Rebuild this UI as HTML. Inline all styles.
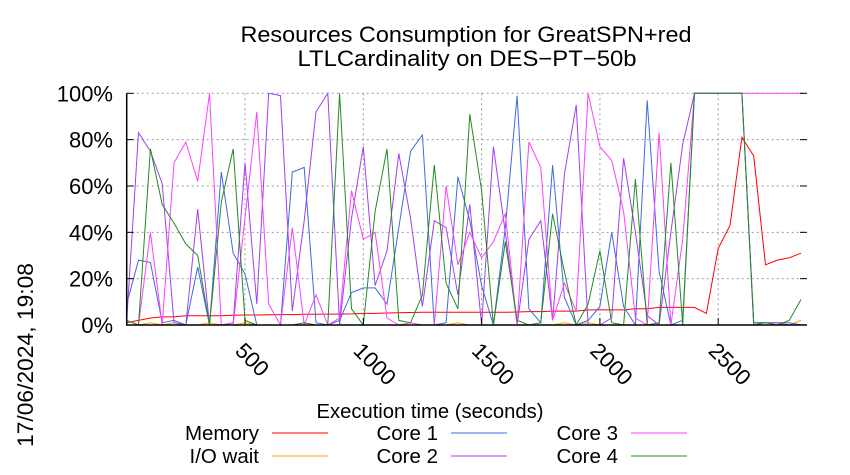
<!DOCTYPE html>
<html><head><meta charset="utf-8"><style>
body{margin:0;background:#fff;}
svg{display:block;font-family:"Liberation Sans",sans-serif;}
</style></head><body>
<svg id="chart" width="850" height="475" viewBox="0 0 850 475">
<text x="466" y="42" font-size="22" text-anchor="middle" textLength="451" lengthAdjust="spacingAndGlyphs">Resources Consumption for GreatSPN+red</text>
<text x="467" y="66" font-size="22" text-anchor="middle" textLength="339" lengthAdjust="spacingAndGlyphs">LTLCardinality on DES−PT−50b</text>
<text transform="translate(33,355) rotate(-90)" font-size="22" text-anchor="middle" textLength="184" lengthAdjust="spacingAndGlyphs">17/06/2024, 19:08</text>
<text x="430" y="418" font-size="20.5" text-anchor="middle" textLength="227" lengthAdjust="spacingAndGlyphs">Execution time (seconds)</text>
<g id="grid"></g>
<g id="series"></g>
<g id="axes"></g>
<g id="legend"></g>
</svg>
<script>
const times = [];
for (let k = 0; k < 58; k++) times.push(k * 50);
const memory = [1,2,3,3.5,3.5,4,4,4,4,4.2,4.3,4.3,4.4,4.5,4.5,4.6,4.6,4.7,4.7,4.8,5,5,5.2,5.3,5.4,5.5,5.5,5.5,5.5,5.5,5.5,5.5,5.5,5.6,5.8,5.8,6,6,6,6.5,6.5,6.5,6.5,7,7,7.6,7.6,7.6,7.6,5,33,43,81,73,26,28,29,31,32];
const ioWait = [0,0,1,0,1,0,0,1,0,0,1,0,0,0,0,0,0,0,0,0,0,0,0,0,0,0,0,0,1,0,0,0,0,0,0,0,0,1,0,1,0,0,0,0,0,0,0,0,0,0,0,0,0,0,0,0,0,2];
const core1 = [9,28,27,1,2,0,25,0,66,31,22,0,0,0,66,68,1,0,2,14,16,16,9,42,75,82,0,1,64,45,17,0,42,99,7,1,69,12,0,2,8,40,8,0,97,23,0,2,100,100,100,100,100,0,1,1,1,0];
const core2 = [2,83,75,61,1,0,50,0,0,1,70,9,100,99,6,45,92,100,0,46,77,17,32,74,46,8,45,42,13,52,0,77,40,0,37,45,2,65,95,0,0,3,72,40,4,0,40,78,100,100,100,100,100,1,1,1,0,0];
const core3 = [2,0,40,0,70,79,62,100,0,0,46,92,9,0,42,0,13,0,3,58,37,40,3,0,1,0,0,60,26,40,29,36,48,0,79,68,2,18,6,100,77,71,49,3,0,83,0,37,100,100,100,100,100,100,100,100,100,100];
const core4 = [2,0,76,52,44,35,30,0,53,76,2,0,0,0,0,1,0,0,100,7,0,49,76,2,1,13,69,18,7,91,58,0,36,2,0,1,48,23,0,9,32,1,0,63,0,1,70,0,100,100,100,100,100,1,1,0,2,11];
const xTicks = [500,1000,1500,2000,2500];
const yTicks = [0,20,40,60,80,100];
const yTickLabels = ["0%","20%","40%","60%","80%","100%"];

const NS = "http://www.w3.org/2000/svg";
const X0 = 126.7, XR = 807, YT = 93.3, YB = 325;
const xScale = t => X0 + t * 0.2366;
const yScale = v => YB - v / 100 * (YB - YT);
function mk(tag, attrs, parent) {
  const e = document.createElementNS(NS, tag);
  for (const k in attrs) e.setAttribute(k, attrs[k]);
  parent.appendChild(e);
  return e;
}
const grid = document.getElementById('grid');
const axes = document.getElementById('axes');
const series = document.getElementById('series');
const legend = document.getElementById('legend');

yTicks.forEach((v, i) => {
  const y = yScale(v);
  if (v > 0) {
    const g = mk('line', {x1: X0, x2: XR, y1: y, y2: y, stroke: '#999', 'stroke-dasharray': '2,3', 'stroke-width': 1}, grid);
    
    
  }
  const tk = mk('line', {x1: X0, x2: X0 + 7, y1: y, y2: y, stroke: '#000', 'stroke-width': 1}, axes);
  
  
  const tk2 = mk('line', {x1: XR - 7, x2: XR, y1: y, y2: y, stroke: '#000', 'stroke-width': 1}, axes);
  
  
  const t = mk('text', {x: 113, y: y + 8, 'font-size': 22, 'text-anchor': 'end'}, axes);
  t.textContent = yTickLabels[i];
  
  
});
xTicks.forEach(v => {
  const x = xScale(v);
  const g = mk('line', {x1: x, x2: x, y1: YT, y2: YB, stroke: '#999', 'stroke-dasharray': '2,3', 'stroke-width': 1}, grid);
  
  
  const tk = mk('line', {x1: x, x2: x, y1: YB - 7, y2: YB, stroke: '#000', 'stroke-width': 1}, axes);
  
  
  const t = mk('text', {x: 0, y: 0, 'font-size': 22, transform: `translate(${x - 11},${YB + 27}) rotate(45)`}, axes);
  t.textContent = String(v);
  
  
});
const ax = mk('path', {d: `M${X0},${YT} L${X0},${YB} L${XR},${YB}`, fill: 'none', stroke: '#000', 'stroke-width': 1.5}, axes);



const defs = [
  {name: 'Memory', data: memory, color: '#ff0000', lx: 259, ly: 440},
  {name: 'I/O wait', data: ioWait, color: '#ffa500', lx: 259, ly: 463},
  {name: 'Core 1', data: core1, color: '#4169e1', lx: 438, ly: 440},
  {name: 'Core 2', data: core2, color: '#a040f0', lx: 438, ly: 463},
  {name: 'Core 3', data: core3, color: '#ff40ff', lx: 618, ly: 440},
  {name: 'Core 4', data: core4, color: '#228b22', lx: 618, ly: 463}
];
defs.forEach(s => {
  const pts = s.data.map((v, i) => xScale(times[i]).toFixed(1) + ',' + yScale(v).toFixed(1)).join(' ');
  const p = mk('polyline', {points: pts, fill: 'none', stroke: s.color, 'stroke-width': 1}, series);
  
  
  const t = mk('text', {x: s.lx, y: s.ly, 'font-size': 20.5, 'text-anchor': 'end'}, legend);
  t.textContent = s.name;
  
  
  const l = mk('line', {x1: s.lx + 13, x2: s.lx + 69, y1: s.ly - 7, y2: s.ly - 7, stroke: s.color, 'stroke-width': 1}, legend);
  
  
});
</script>
</body></html>
